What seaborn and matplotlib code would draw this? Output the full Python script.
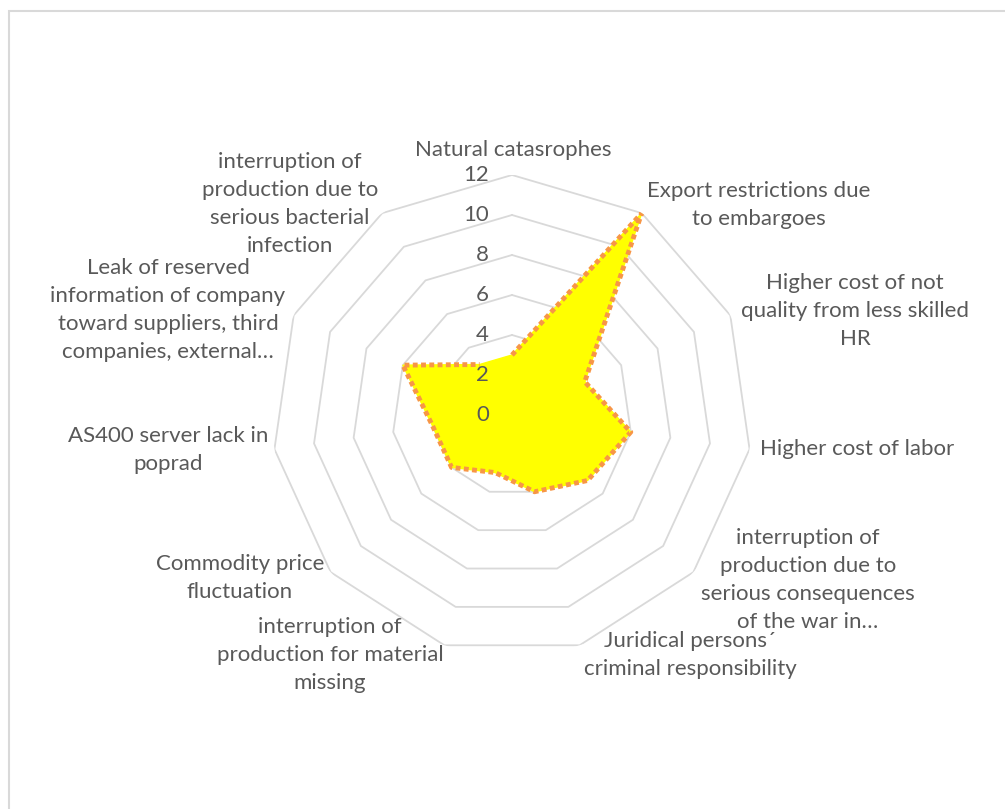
import numpy as np
import pandas as pd
import seaborn as sns
import matplotlib.pyplot as plt
from matplotlib.patches import Rectangle

categories = [
    "Natural catasrophes",
    "Export restrictions due\nto embargoes",
    "Higher cost of not\nquality from less skilled\nHR",
    "Higher cost of labor",
    "interruption of\nproduction due to\nserious consequences\nof the war in…",
    "Juridical persons´\ncriminal responsibility",
    "interruption of\nproduction for material\nmissing",
    "Commodity price\nfluctuation",
    "AS400 server lack in\npoprad",
    "Leak of reserved\ninformation of company\ntoward suppliers, third\ncompanies, external…",
    "interruption of\nproduction due to\nserious bacterial\ninfection",
]
values = [3, 12, 4, 6, 5, 4, 3, 4, 4, 6, 3]
ticks = [0, 2, 4, 6, 8, 10, 12]

# label centres in pixels (x, y from top)
label_pos = [(513, 150), (759, 205), (855, 311), (857, 449), (808, 580),
             (690, 655), (330, 655), (240, 578), (168, 450), (168, 310), (290, 204)]

sns.set_theme(style="white")
plt.rcParams['font.family'] = ['Lato', 'DejaVu Sans']

W, H = 1005, 809
cx, cy, R = 512, 415, 240
fig = plt.figure(figsize=(W / 100, H / 100), dpi=100)
# chart area border: only top and left edges fall inside the picture
fig.patches.append(Rectangle((9 / W, -20 / H), 1100 / W, (H + 20 - 11) / H, transform=fig.transFigure,
                             fill=False, edgecolor="#d9d9d9", linewidth=1.5))

ax = fig.add_axes([(cx - R) / W, (H - cy - R) / H, 2 * R / W, 2 * R / H], projection="polar")
ax.set_theta_zero_location("N")
ax.set_theta_direction(-1)
ax.set_ylim(0, 12)
ax.grid(False)
ax.spines["polar"].set_visible(False)
ax.set_xticks([])
ax.set_yticks([])
ax.patch.set_alpha(0)

n = len(categories)
theta = np.arange(n) * 2 * np.pi / n
theta_c = np.append(theta, theta[0])

for t in ticks[1:]:
    ax.plot(theta_c, [t] * (n + 1), color="#d9d9d9", linewidth=1.3, zorder=1)

df = pd.DataFrame({"theta": theta_c, "value": values + values[:1]})
ax.fill(df["theta"], df["value"], color="#ffff00", zorder=2)
sns.lineplot(data=df, x="theta", y="value", ax=ax, sort=False, color="#f79646",
             linewidth=3.5, linestyle=(0, (1, 0.7)), zorder=3)
ax.lines[-1].set_dash_capstyle("butt")
ax.set_xlabel("")
ax.set_ylabel("")

for t in ticks:
    y = cy - t * R / 12
    fig.text(489 / W, 1 - y / H, str(t), ha="right", va="center", fontsize=16, color="#595959")

for lab, (x, y) in zip(categories, label_pos):
    fig.text(x / W, 1 - y / H, lab, ha="center", va="center", fontsize=16,
             color="#595959", linespacing=1.52)

fig.savefig("out.png", dpi=100)
